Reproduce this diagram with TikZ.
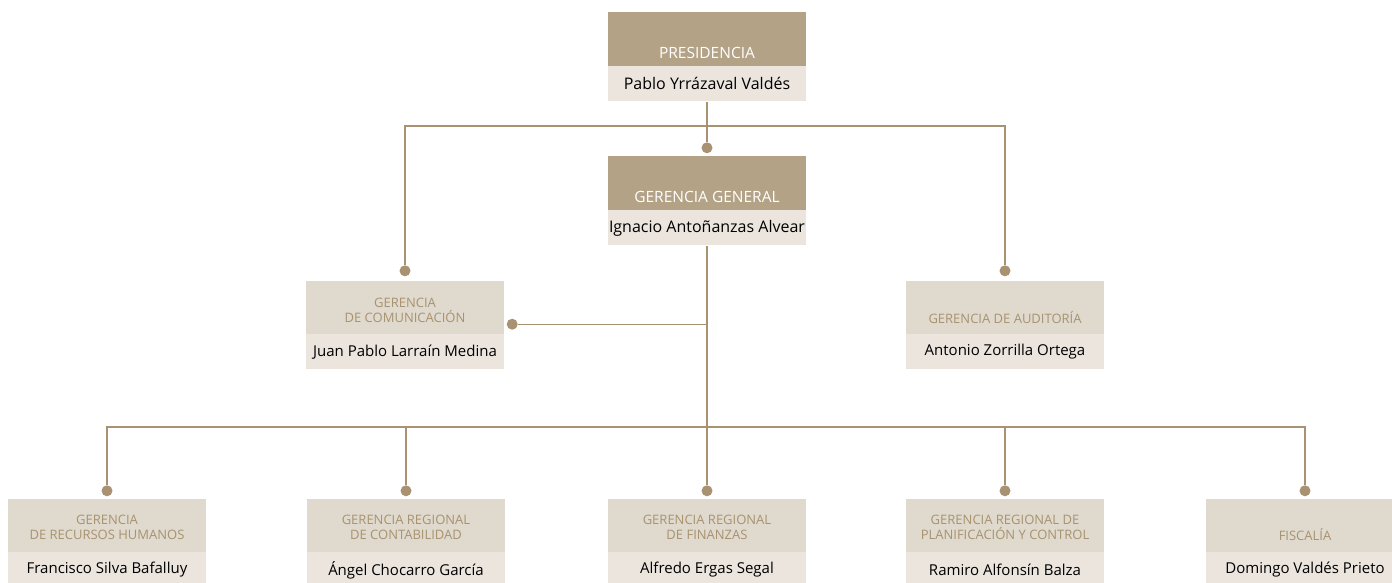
\documentclass[tikz,border=0pt]{standalone}
\usepackage{fontspec}
\setmainfont{Open Sans}
\usetikzlibrary{positioning}
\definecolor{hdbrown}{HTML}{B4A286}
\definecolor{subbeige}{HTML}{E0D9CE}
\definecolor{namebeige}{HTML}{EBE5DE}
\definecolor{subtan}{HTML}{A8936F}
\definecolor{linebrown}{HTML}{A89272}
\begin{document}
\begin{tikzpicture}[x=1pt,y=-1pt,
    hd/.style={fill=hdbrown,minimum width=198pt,minimum height=54pt,inner sep=0pt},
    subhd/.style={fill=subbeige,minimum width=198pt,minimum height=53pt,inner sep=0pt},
    nm/.style={fill=namebeige,minimum width=198pt,minimum height=35pt,inner sep=0pt,
      font=\fontsize{15}{18}\selectfont},
    topnm/.style={nm,font=\fontsize{16}{19}\selectfont},
    hdtxt/.style={anchor=south,inner sep=0pt,text=white,font=\fontsize{15.5}{18}\selectfont},
    subtxt/.style={anchor=south,inner sep=0pt,align=center,text=subtan,
      font=\fontsize{13}{15.5}\selectfont},
    link/.style={draw=linebrown,line width=1.4pt},
    dot/.style={circle,fill=linebrown,minimum size=11pt,inner sep=0pt}]
  \useasboundingbox (0,0) rectangle (1392,583);
  % top
  \node[hd] (pres) at (707,39) {};
  \node[topnm,below=0pt of pres] (presn) {Pablo Yrrázaval Valdés};
  \node[hdtxt] (prest) at ([yshift=7pt]pres.south) {PRESIDENCIA};
  \node[hd] (gg) at (707,183) {};
  \node[topnm,below=0pt of gg] (ggn) {Ignacio Antoñanzas Alvear};
  \node[hdtxt] (ggt) at ([yshift=7pt]gg.south) {GERENCIA GENERAL};
  % middle
  \node[subhd] (com) at (405,307.5) {};
  \node[nm,below=0pt of com] (comn) {Juan Pablo Larraín Medina};
  \node[subtxt] (comt) at ([yshift=11pt]com.south) {GERENCIA\\DE COMUNICACIÓN};
  \node[subhd] (aud) at (1005,307.5) {};
  \node[nm,below=0pt of aud] (audn) {Antonio Zorrilla Ortega};
  \node[subtxt] (audt) at ([yshift=10pt]aud.south) {GERENCIA DE AUDITORÍA};
  % bottom
  \node[subhd] (rh) at (107,525.5) {};
  \node[nm,below=0pt of rh] (rhn) {Francisco Silva Bafalluy};
  \node[subtxt] (rht) at ([yshift=12pt]rh.south) {GERENCIA\\DE RECURSOS HUMANOS};
  \node[subhd] (con) at (406,525.5) {};
  \node[nm,below=0pt of con] (conn) {Ángel Chocarro García};
  \node[subtxt] (cont) at ([yshift=12pt]con.south) {GERENCIA REGIONAL\\DE CONTABILIDAD};
  \node[subhd] (fin) at (707,525.5) {};
  \node[nm,below=0pt of fin] (finn) {Alfredo Ergas Segal};
  \node[subtxt] (fint) at ([yshift=12pt]fin.south) {GERENCIA REGIONAL\\DE FINANZAS};
  \node[subhd] (pla) at (1005,525.5) {};
  \node[nm,below=0pt of pla] (plan) {Ramiro Alfonsín Balza};
  \node[subtxt] (plat) at ([yshift=12pt]pla.south) {GERENCIA REGIONAL DE\\PLANIFICACIÓN Y CONTROL};
  \node[subhd] (fis) at (1305,525.5) {};
  \node[nm,below=0pt of fis] (fisn) {Domingo Valdés Prieto};
  \node[subtxt] (fist) at ([yshift=11pt]fis.south) {FISCALÍA};
  % dots
  \node[dot] (ggd) at ([yshift=8pt]gg.north) {};
  \node[dot] (comd) at ([yshift=10pt]com.north) {};
  \node[dot] (audd) at ([yshift=10pt]aud.north) {};
  \node[dot] (comr) at ([xshift=8pt,yshift=10pt]com.south east) {};
  \node[dot] (rhd) at ([yshift=8pt]rh.north) {};
  \node[dot] (cond) at ([yshift=8pt]con.north) {};
  \node[dot] (find) at ([yshift=8pt]fin.north) {};
  \node[dot] (plad) at ([yshift=8pt]pla.north) {};
  \node[dot] (fisd) at ([yshift=8pt]fis.north) {};
  \coordinate (topbar) at (707,126);
  \coordinate (lowbar) at (707,427);
  % links
  \begin{scope}[link]
    \draw (presn.south) -- (ggd);
    \draw (comd) |- (topbar) -| (audd);
    \draw (ggn.south) -- (find);
    \draw (comr) -- (comr -| ggn.south);
    \draw (rhd) |- (lowbar) -| (fisd);
    \draw (cond) |- (lowbar);
    \draw (plad) |- (lowbar);
  \end{scope}
\end{tikzpicture}
\end{document}
